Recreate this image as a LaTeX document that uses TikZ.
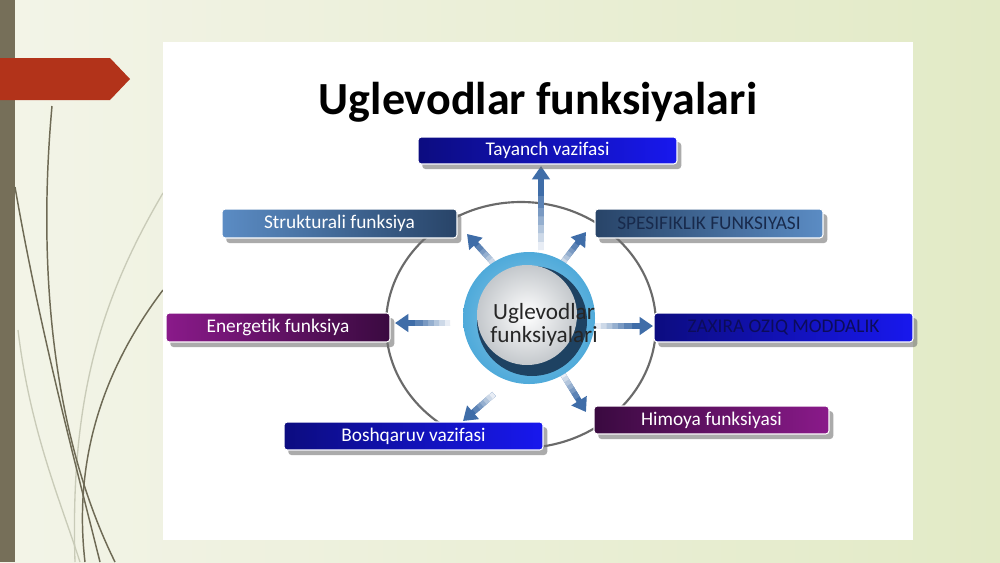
\documentclass[tikz,border=0pt]{standalone}
\usepackage{fontspec}
\setmainfont{Carlito}[Ligatures=CommonOff]
\usetikzlibrary{arrows.meta,shadows,calc}
\definecolor{bgL}{HTML}{F3F4E8}
\definecolor{bgR}{HTML}{E2EAC6}
\definecolor{barC}{HTML}{766F59}
\definecolor{redC}{HTML}{B2331A}
\definecolor{stemC}{HTML}{6E6A55}
\definecolor{stemL}{HTML}{C9CBB8}
\definecolor{arrC}{HTML}{3F6DA8}
\definecolor{ringC}{HTML}{6A6A6A}
\definecolor{navyL}{RGB}{12,12,128}
\definecolor{blueR}{RGB}{24,24,238}
\definecolor{steelL}{HTML}{5B8CC4}
\definecolor{steelD}{HTML}{284468}
\definecolor{purL}{HTML}{8A1A8A}
\definecolor{purD}{HTML}{3A0A40}
\definecolor{darkTxt}{HTML}{182A4C}
\definecolor{zaxTxt}{HTML}{0C0C5A}
\definecolor{cBlue}{HTML}{4FAADA}
\definecolor{cDark}{HTML}{1E4262}
\definecolor{cGrey}{HTML}{C4C8CC}
\tikzset{
  px/.style={x=0.75pt,y=-0.75pt},
  fbox/.style={rectangle, rounded corners=2.5pt, draw=white, line width=0.8pt,
    inner sep=0pt, font=\fontsize{14.5}{16}\selectfont, text=white,
    drop shadow={shadow xshift=3.2pt, shadow yshift=-3.8pt, fill=black!55, opacity=0.6}},
  outarrow/.style={draw=arrC, line width=4.2pt,
    -{Triangle[length=10pt,width=13pt]}},
  stem/.style={draw=stemC, line width=1.1pt},
  stemlight/.style={draw=stemL, line width=1pt}
}
\newcommand\fadearr[2]{%
  \draw[outarrow] (#1) -- (#2);
  \foreach \i/\c in {0/12,1/26,2/40,3/55,4/70,5/85}{%
    \draw[draw=arrC!\c!white, line width=4.2pt]
      ($(#1)!{\i*0.1}!(#2)$) -- ($(#1)!{(\i+1)*0.1+0.04}!(#2)$);
  }%
}
\begin{document}
\begin{tikzpicture}[px]
\useasboundingbox (0,0) rectangle (1000,562);
% background
\shade[left color=bgL, right color=bgR] (0,0) rectangle (1000,562);
\fill[barC] (0,0) rectangle (15,562);
% decorative stems
\draw[stemlight] (18,330) .. controls (30,430) and (60,500) .. (80,562);
\draw[stemlight] (163,193) .. controls (100,300) and (70,400) .. (75,562);
\draw[stem] (52,106) .. controls (38,260) and (50,430) .. (115,562);
\draw[stem] (15,187) .. controls (40,330) and (72,450) .. (100,562);
\draw[stem] (163,290) .. controls (110,360) and (72,450) .. (85,562);
% red marker
\fill[redC] (0,58) -- (110,58) -- (130,79) -- (110,100) -- (0,100) -- cycle;
% white panel
\fill[white] (163,42) rectangle (913,540);
% title
\node[font=\fontsize{34.5}{38}\bfseries, text=black] (title) at (538,102) {Uglevodlar funksiyalari};
% big ring
\draw[ringC, line width=1.6pt] (521,325) ellipse [x radius=135, y radius=123];
% arrows
\coordinate (aU0) at (541,250); \coordinate (aU1) at (541,166);
\coordinate (aUL0) at (496,266); \coordinate (aUL1) at (467,234);
\coordinate (aUR0) at (560,266); \coordinate (aUR1) at (586,232);
\coordinate (aL0) at (450,323); \coordinate (aL1) at (395,323);
\coordinate (aR0) at (595,326); \coordinate (aR1) at (653,326);
\coordinate (aLL0) at (494,394); \coordinate (aLL1) at (463,421);
\coordinate (aLR0) at (562,373); \coordinate (aLR1) at (586,412);
\fadearr{aU0}{aU1}
\fadearr{aUL0}{aUL1}
\fadearr{aUR0}{aUR1}
\fadearr{aL0}{aL1}
\fadearr{aR0}{aR1}
\fadearr{aLL0}{aLL1}
\fadearr{aLR0}{aLR1}
% central circle
\shade[inner color=cBlue!60, outer color=cBlue] (529,318) circle [radius=66];
\fill[cDark] (532,321) circle [radius=55];
\shade[inner color=white, outer color=cGrey] (527,315) circle [radius=50];
\node[font=\fontsize{17.4}{17.6}\selectfont, text=black!85, align=center] (center) at (544,325) {Uglevodlar\\funksiyalari};
% boxes
\node[fbox, left color=navyL, right color=blueR, minimum width=259*0.75pt, minimum height=27*0.75pt] (tay) at (547.5,150.5) {Tayanch vazifasi};
\node[fbox, left color=steelL, right color=steelD, minimum width=235*0.75pt, minimum height=29*0.75pt] (str) at (339.5,223.5) {Strukturali funksiya};
\node[fbox, left color=steelD, right color=steelL, minimum width=228*0.75pt, minimum height=29*0.75pt, text=darkTxt] (spe) at (709,223.5) {SPESIFIKLIK FUNKSIYASI};
\node[fbox, left color=purL, right color=purD, minimum width=224*0.75pt, minimum height=29*0.75pt] (ene) at (278,327.5) {Energetik funksiya};
\node[fbox, left color=navyL, right color=blueR, minimum width=259*0.75pt, minimum height=29*0.75pt, text=zaxTxt] (zax) at (783.5,327.5) {ZAXIRA OZIQ MODDALIK};
\node[fbox, left color=navyL, right color=blueR, minimum width=259*0.75pt, minimum height=28*0.75pt] (bos) at (413.5,436) {Boshqaruv vazifasi};
\node[fbox, left color=purD, right color=purL, minimum width=235*0.75pt, minimum height=28*0.75pt] (him) at (711.5,420) {Himoya funksiyasi};
\end{tikzpicture}
\end{document}
